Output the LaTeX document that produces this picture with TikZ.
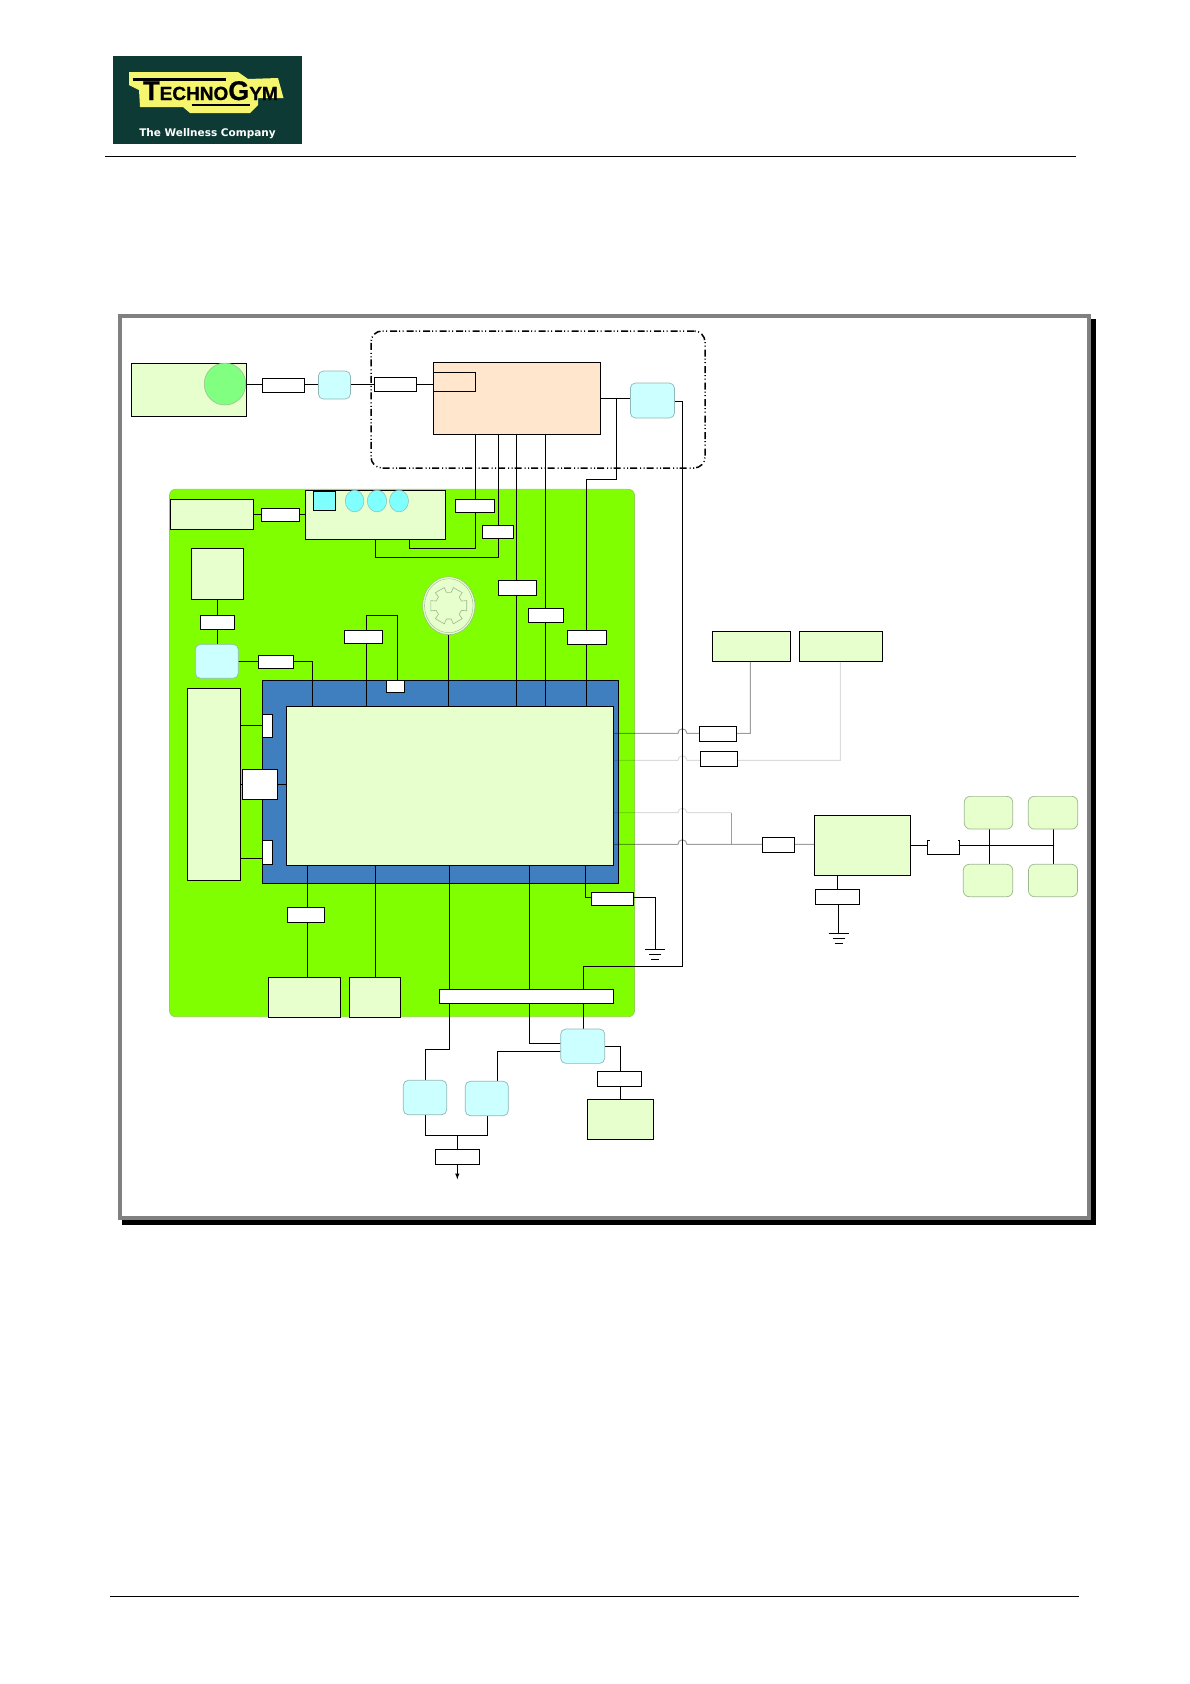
\documentclass[tikz,border=0pt]{standalone}
\usepackage{fontspec}
\usetikzlibrary{shapes.geometric}
\newfontfamily\brandfont[BoldFeatures={FakeBold=0.8}]{Liberation Sans}
\newfontfamily\mottofont{DejaVu Sans}
\definecolor{palegreen}{HTML}{E6FFCC}
\definecolor{palecyan}{HTML}{CCFFFF}
\definecolor{edgecyan}{HTML}{8FB8B8}
\definecolor{edgepale}{HTML}{9DB88F}
\definecolor{boardgreen}{HTML}{80FF00}
\definecolor{mcublue}{HTML}{3F7FBF}
\definecolor{ledcyan}{HTML}{80FFFF}
\definecolor{ledgreen}{HTML}{80FF80}
\definecolor{paleorange}{HTML}{FFE6CC}
\definecolor{logogreen}{HTML}{0D3A34}
\definecolor{logoyellow}{HTML}{F5F56E}
\pgfdeclarelayer{board}
\pgfdeclarelayer{wires}
\pgfsetlayers{board,wires,main}
\tikzset{
  wire/.style={draw=black, line width=1pt},
  wiregray/.style={draw=black, draw opacity=0.38, line width=1pt},
  wirelight/.style={draw=black, draw opacity=0.14, line width=1pt},
  blk/.style={rectangle, draw=black, line width=1pt, fill=palegreen, inner sep=0pt, outer sep=0pt},
  con/.style={rectangle, draw=black, line width=1pt, fill=white, inner sep=0pt, outer sep=0pt},
  cyn/.style={rectangle, rounded corners=5pt, draw=edgecyan, line width=0.7pt, fill=palecyan, inner sep=0pt, outer sep=0pt},
  jnt/.style={rectangle, rounded corners=6pt, draw=edgepale, line width=0.7pt, fill=palegreen, inner sep=0pt, outer sep=0pt},
  lmp/.style={ellipse, draw=edgecyan, line width=0.5pt, fill=ledcyan, inner sep=0pt, outer sep=0pt}
}
\begin{document}
\begin{tikzpicture}[x=1pt, y=-1pt]
\useasboundingbox (0,0) rectangle (1190,1684);
%
% --- Page header and footer ---
\node[fill=logogreen, minimum width=189pt, minimum height=88pt, inner sep=0pt] (logo) at (207.5,100) {};
\fill[logoyellow] (129,72)--(238,72)--(248,79)--(278,78)--(283.5,98)--(258,98)--(258,105)--(250,113)--(190,113)--(183,107)--(140,107)--(139,90)--(129,85)--cycle;
\draw[line width=2.5pt] (132.7,79.3)--(226,79.3);
\draw[line width=2.5pt] (191.7,105)--(250,105);
\node[anchor=base west, inner sep=0pt] (brand) at (143,100) {\brandfont\bfseries{\fontsize{27}{27}\selectfont T}{\fontsize{19}{19}\selectfont ECHNO}{\fontsize{27}{27}\selectfont G}{\fontsize{19}{19}\selectfont YM}};
\node[text=white, inner sep=0pt] (motto) at (207.5,133.5) {\mottofont\bfseries\fontsize{10.5}{12}\selectfont The Wellness Company};
\draw[line width=1pt] (105,156.3)--(1076,156.3);
\draw[line width=1pt] (109.5,1596)--(1079,1596);
%
% --- Frame, board and processor carrier ---
\begin{pgfonlayer}{board}
\fill[black] (122,319) rectangle (1096,1225);
\draw[draw=black!50, line width=4pt, fill=white] (120,316) rectangle (1089,1218);
\node[rectangle, rounded corners=6pt, draw=boardgreen!75!black!70!white, line width=0.7pt, fill=boardgreen, minimum width=465pt, minimum height=527.4pt, inner sep=0pt] (board) at (402,753) {};
\node[rectangle, draw=black, line width=1pt, fill=mcublue, minimum width=356.4pt, minimum height=203pt, inner sep=0pt] (carrier) at (440.5,781.8) {};
\end{pgfonlayer}
%
% --- Top row and head unit ---
\node[blk, minimum width=115pt, minimum height=53pt] (b1) at (189,390) {};
\node[ellipse, draw=edgepale, line width=0.5pt, fill=ledgreen, minimum width=41.5pt, minimum height=42pt, inner sep=0pt] (led) at (225,384) {};
\node[con, minimum width=42.5pt, minimum height=14pt] (c1) at (283.3,385) {};
\node[cyn, minimum width=32pt, minimum height=28pt] (cy1) at (334.4,385) {};
\node[rectangle, rounded corners=11pt, draw=black, line width=1.5pt, dash pattern=on 7pt off 3pt on 1pt off 2.5pt on 1pt off 2pt, minimum width=334pt, minimum height=137pt, inner sep=0pt] (head) at (538,399.5) {};
\node[con, minimum width=42.5pt, minimum height=14pt] (c2) at (395.3,384) {};
\node[blk, fill=paleorange, minimum width=167pt, minimum height=72pt] (or1) at (516.9,398) {};
\node[blk, fill=none, minimum width=42pt, minimum height=19pt] (or2) at (454.6,381.5) {};
\node[cyn, minimum width=44pt, minimum height=35pt] (cy2) at (652.4,400.5) {};
%
% --- Blocks on the board ---
\node[blk, minimum width=83.5pt, minimum height=30pt] (b2) at (211.8,514.3) {};
\node[con, minimum width=38.4pt, minimum height=13pt] (c3) at (280.6,514.8) {};
\node[blk, minimum width=140pt, minimum height=49pt] (b3) at (375.7,514.8) {};
\node[rectangle, draw=black, line width=1pt, fill=ledcyan, minimum width=22pt, minimum height=19.3pt, inner sep=0pt] (sq) at (324.7,500.7) {};
\node[lmp, minimum width=18.6pt, minimum height=21.7pt] (l1) at (354.6,501) {};
\node[lmp, minimum width=19.4pt, minimum height=21.7pt] (l2) at (377,501) {};
\node[lmp, minimum width=19pt, minimum height=21.7pt] (l3) at (399,501) {};
\node[con, minimum width=39pt, minimum height=13pt] (c4) at (475.2,505.8) {};
\node[con, minimum width=31pt, minimum height=13pt] (c5) at (498.1,531.8) {};
\node[blk, minimum width=52pt, minimum height=51pt] (b4) at (217.3,573.8) {};
\node[con, minimum width=34.4pt, minimum height=14pt] (c6) at (217.5,622.3) {};
\node[cyn, minimum width=43pt, minimum height=34pt] (cy3) at (216.8,661.3) {};
\node[con, minimum width=35.4pt, minimum height=13.4pt] (c7) at (276,662) {};
\node[blk, minimum width=327pt, minimum height=159pt] (mcu) at (450.2,785.8) {};
\node[con, minimum width=38.4pt, minimum height=13.4pt] (c8) at (363.5,637) {};
\node[con, minimum width=18pt, minimum height=12pt] (c9) at (395.7,686.7) {};
\node[con, minimum width=38.4pt, minimum height=14.7pt] (c10) at (517.5,588.3) {};
\node[con, minimum width=35.4pt, minimum height=14.4pt] (c11) at (546,615.5) {};
\node[con, minimum width=39.4pt, minimum height=14.4pt] (c12) at (587,637.5) {};
\node[blk, minimum width=53.4pt, minimum height=192.4pt] (b5) at (214,784.5) {};
\node[con, minimum width=10pt, minimum height=23.3pt] (c13) at (267.7,725.7) {};
\node[con, minimum width=35.4pt, minimum height=30pt] (c14) at (260,784.3) {};
\node[con, minimum width=10pt, minimum height=24pt] (c15) at (267.7,852.3) {};
\node[con, minimum width=42.4pt, minimum height=13pt] (c16) at (612.5,898.8) {};
\node[con, minimum width=37.4pt, minimum height=15pt] (c17) at (306,914.8) {};
\node[blk, minimum width=72.4pt, minimum height=40pt] (b6) at (304.5,997.3) {};
\node[blk, minimum width=51.4pt, minimum height=40pt] (b7) at (375,997.3) {};
\node[con, minimum width=174.4pt, minimum height=14.4pt] (c18) at (526.5,996.5) {};
%
% --- Encoder wheel ---
\node[ellipse, draw=edgepale, line width=0.6pt, fill=palegreen, minimum width=52.3pt, minimum height=58pt, inner sep=0pt] (enc) at (448.8,605.7) {};
\node[ellipse, draw=edgepale, line width=0.4pt, minimum width=48.5pt, minimum height=54pt, inner sep=0pt] (encin) at (448.8,605.7) {};
\draw[draw=edgepale, line width=0.6pt, shift={(448.8,605.7)}] (16:18.7)
  \foreach \a in {30,90,...,330} {
    -- (\a-14:18.7) -- (\a-10:13.5) -- (\a+10:13.5) -- (\a+14:18.7) -- (\a+46:18.7)
  } -- cycle;
%
% --- Blocks below the board ---
\node[cyn, minimum width=43.4pt, minimum height=34.4pt] (cy4) at (425,1097.5) {};
\node[cyn, minimum width=43pt, minimum height=34.4pt] (cy5) at (486.8,1098.5) {};
\node[cyn, minimum width=44pt, minimum height=34.3pt] (cy6) at (582.7,1046.2) {};
\node[con, minimum width=44.4pt, minimum height=15.4pt] (c19) at (619.5,1079) {};
\node[blk, minimum width=66.4pt, minimum height=40pt] (b8) at (620.5,1119.3) {};
\node[con, minimum width=44.4pt, minimum height=15pt] (c20) at (457.5,1156.8) {};
%
% --- Blocks on the right ---
\node[blk, minimum width=78.4pt, minimum height=30.4pt] (b9) at (751.5,646.5) {};
\node[blk, minimum width=83.4pt, minimum height=30.4pt] (b10) at (841,646.5) {};
\node[con, minimum width=37.4pt, minimum height=15.4pt] (c21) at (718,734) {};
\node[con, minimum width=37.4pt, minimum height=15.4pt] (c22) at (719,759) {};
\node[con, minimum width=32.4pt, minimum height=15.4pt] (c23) at (778.5,845) {};
\node[blk, minimum width=96.4pt, minimum height=60.4pt] (b11) at (862.5,845.5) {};
\node[con, minimum width=44.4pt, minimum height=15.4pt] (c24) at (837.5,897) {};
\node[jnt, minimum width=48.4pt, minimum height=32.7pt] (j1) at (988.5,812.7) {};
\node[jnt, minimum width=49.4pt, minimum height=32.7pt] (j2) at (1053,812.7) {};
\node[jnt, minimum width=49.4pt, minimum height=32.4pt] (j3) at (988,880.5) {};
\node[jnt, minimum width=49pt, minimum height=32.4pt] (j4) at (1053,880.5) {};
%
% --- Tap points and corners ---
\coordinate (ta) at (475.8,548.3);
\coordinate (tb) at (409.3,539.3);
\coordinate (tc) at (498.7,557.3);
\coordinate (td) at (375.3,539.3);
\coordinate (te) at (516.7,706.3);
\coordinate (tf) at (545.5,706.3);
\coordinate (tg) at (616.5,398);
\coordinate (th) at (586.4,479);
\coordinate (ti) at (682.4,401);
\coordinate (tj) at (583.3,966.5);
\coordinate (tk) at (262.7,858.3);
\coordinate (tl) at (312.7,661.3);
\coordinate (tm) at (366.3,615.7);
\coordinate (tn) at (397.7,680.7);
\coordinate (to) at (307.3,977.3);
\coordinate (tp) at (449.3,1049.3);
\coordinate (tq) at (425.3,1080.3);
\coordinate (tr) at (529.3,1043.3);
\coordinate (ts) at (497.3,1051.3);
\coordinate (tt) at (585.3,897.3);
\coordinate (tv) at (620.3,1046.3);
\coordinate (tw) at (425.3,1135.3);
\coordinate (tx) at (487.3,1135.3);
\coordinate (ty) at (457.3,1135.3);
\coordinate (tip) at (457.3,1179.3);
\coordinate (gnda) at (655.3,949.3);
\coordinate (gndb) at (838.7,933.3);
\coordinate (hp1) at (682.4,733.3);
\coordinate (hp2) at (682.4,760.3);
\coordinate (hp3) at (682.4,812.7);
\coordinate (hp4) at (682.4,844.3);
\coordinate (ga) at (750.3,661.7);
\coordinate (gb) at (840.3,661.7);
\coordinate (gc) at (731.3,844.3);
\coordinate (da) at (927.3,845.3);
\coordinate (db) at (959.7,845.3);
\coordinate (dc) at (1053.3,845.3);
\coordinate (dd) at (989.3,845.3);
\coordinate (de) at (837.3,889.3);
%
% --- Edges ---
\begin{pgfonlayer}{wires}
\draw[wire] (led.east)--(cy1.west |- led.east);
\draw[wire] (cy1.east |- c2)--(or2.west |- c2);
\draw[wire] (or1.east |- tg)--(cy2.west |- tg);
\draw[wire] (tg) |- (th)--(th |- mcu.north);
\draw[wire] (cy2.east |- ti)--(ti) |- (tj)--(tj |- cy6.north);
\draw[wire] (or1.south -| ta)--(ta) -| (tb);
\draw[wire] (or1.south -| tc)--(tc) -| (td);
\draw[wire] (or1.south -| te)--(te);
\draw[wire] (or1.south -| tf)--(tf);
\draw[wire] (b2.east |- c3)--(b3.west |- c3);
\draw[wire] (b4.south)--(b4.south |- cy3.north);
\draw[wire] (cy3.east)--(tl)--(tl |- mcu.north);
\draw[wire] (mcu.north -| tm)--(tm) -| (tn);
\draw[wire] (enc.south)--(enc.south |- mcu.north);
\draw[wire] (b5.east |- c13)--(c13.west);
\draw[wire] (b5.east |- c14)--(mcu.west |- c14);
\draw[wire] (b5.east |- tk)--(tk);
\draw[wire] (mcu.south -| to)--(to);
\draw[wire] (mcu.south -| b7.north)--(b7.north);
\draw[wire] (mcu.south -| tp)--(tp) -| (tq);
\draw[wire] (mcu.south -| tr)--(tr)--(tr -| cy6.west);
\draw[wire] (cy6.west |- ts)--(ts)--(ts |- cy5.north);
\draw[wire] (mcu.south -| tt)--(tt)--(c16.west |- tt);
\draw[wire] (c16.east |- tt) -| (gnda);
\draw[wire] (cy6.east |- tv)--(tv)--(tv |- b8.north);
\draw[wire] (tw |- cy4.south)--(tw)--(tx)--(tx |- cy5.south);
\draw[wire, -latex] (ty)--(tip);
\draw[wire] (b11.south -| de)--(de);
\draw[wire] (gndb |- c24.south)--(gndb);
% --- Grey signal lines, hopping over the vertical wire ---
\draw[wiregray] (mcu.east |- hp1)--([xshift=-4.5pt]hp1) arc[start angle=180, end angle=360, radius=4.5]--(ga |- hp1)--(ga);
\draw[wirelight] (mcu.east |- hp2)--([xshift=-4.5pt]hp2) arc[start angle=180, end angle=360, radius=4.5]--(gb |- hp2)--(gb);
\draw[wirelight] (mcu.east |- hp3)--([xshift=-4.5pt]hp3) arc[start angle=180, end angle=360, radius=4.5]--(gc |- hp3);
\draw[wiregray] (gc |- hp3)--(gc);
\draw[wiregray] (mcu.east |- hp4)--([xshift=-4.5pt]hp4) arc[start angle=180, end angle=360, radius=4.5]--(b11.west |- hp4);
% --- Bus on the right ---
\draw[wire] (b11.east |- da)--(da);
\draw[wire] (db)--(dc);
\draw[wire] (j1.south -| dd)--(j3.north -| dd);
\draw[wire] (j2.south -| dc)--(j4.north -| dc);
\end{pgfonlayer}
%
% --- Open clip on the bus ---
\draw[wire] (929.5,840)--(927.3,840)--(927.3,854.7)--(959.7,854.7)--(959.7,840)--(957.5,840);
%
% --- Earth symbols ---
\draw[wire] ([xshift=-10pt]gnda)--([xshift=10pt]gnda);
\draw[wire] ([xshift=-6pt,yshift=-5pt]gnda)--([xshift=6pt,yshift=-5pt]gnda);
\draw[wire] ([xshift=-4pt,yshift=-10pt]gnda)--([xshift=4pt,yshift=-10pt]gnda);
\draw[wire] ([xshift=-10pt]gndb)--([xshift=10pt]gndb);
\draw[wire] ([xshift=-6pt,yshift=-5pt]gndb)--([xshift=6pt,yshift=-5pt]gndb);
\draw[wire] ([xshift=-4pt,yshift=-10pt]gndb)--([xshift=4pt,yshift=-10pt]gndb);
%
\end{tikzpicture}
\end{document}
